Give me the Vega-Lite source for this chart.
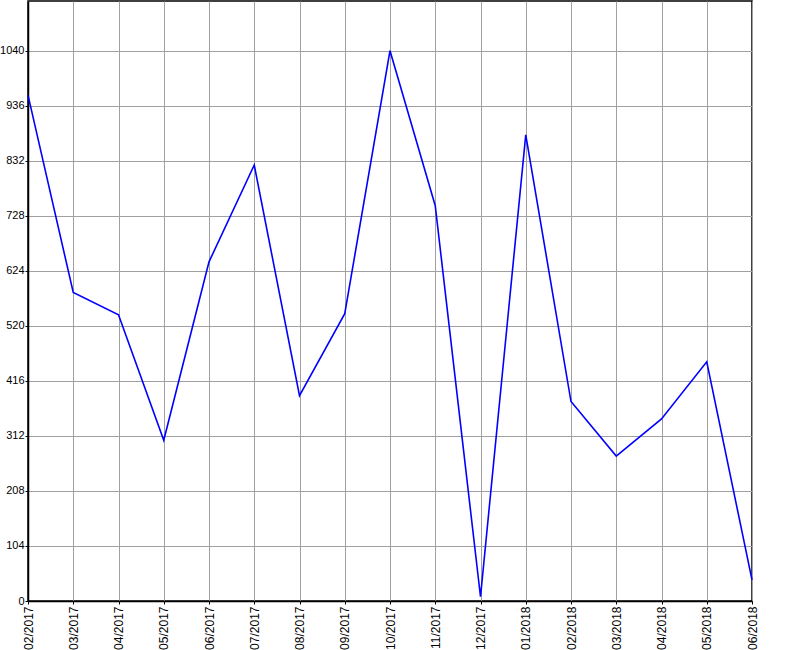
{
  "$schema": "https://vega.github.io/schema/vega-lite/v6.json",
  "autosize": "none",
  "width": 724,
  "height": 600,
  "padding": {"left": 28, "top": 1, "right": 48, "bottom": 49},
  "background": "white",
  "config": {
    "view": {"stroke": "black", "strokeWidth": 1.5},
    "axis": {
      "labelFont": "Liberation Sans",
      "labelColor": "black",
      "domainColor": "black",
      "tickColor": "black",
      "gridColor": "#a0a0a0",
      "gridOpacity": 1,
      "gridWidth": 1
    }
  },
  "data": {
    "values": [
      {"month": "02/2017", "value": 956},
      {"month": "03/2017", "value": 583},
      {"month": "04/2017", "value": 541},
      {"month": "05/2017", "value": 304},
      {"month": "06/2017", "value": 641},
      {"month": "07/2017", "value": 824},
      {"month": "08/2017", "value": 388},
      {"month": "09/2017", "value": 543},
      {"month": "10/2017", "value": 1040},
      {"month": "11/2017", "value": 747},
      {"month": "12/2017", "value": 8},
      {"month": "01/2018", "value": 881},
      {"month": "02/2018", "value": 377},
      {"month": "03/2018", "value": 274},
      {"month": "04/2018", "value": 344},
      {"month": "05/2018", "value": 452},
      {"month": "06/2018", "value": 40}
    ]
  },
  "mark": {"type": "line", "color": "#0000ff", "strokeWidth": 1.6},
  "encoding": {
    "x": {
      "field": "month",
      "type": "ordinal",
      "sort": null,
      "scale": {"type": "point", "padding": 0},
      "axis": {
        "title": null,
        "labelAngle": -90,
        "labelAlign": "right",
        "labelBaseline": "middle",
        "labelFontSize": 12,
        "labelPadding": 2,
        "tickSize": 3,
        "grid": true,
        "domainWidth": 1.5
      }
    },
    "y": {
      "field": "value",
      "type": "quantitative",
      "scale": {"domain": [0, 1134], "nice": false, "zero": true},
      "axis": {
        "title": null,
        "format": "d",
        "values": [0, 104, 208, 312, 416, 520, 624, 728, 832, 936, 1040],
        "labelFontSize": 11,
        "labelPadding": 1,
        "tickSize": 3,
        "grid": true,
        "domainWidth": 1.5
      }
    }
  }
}
